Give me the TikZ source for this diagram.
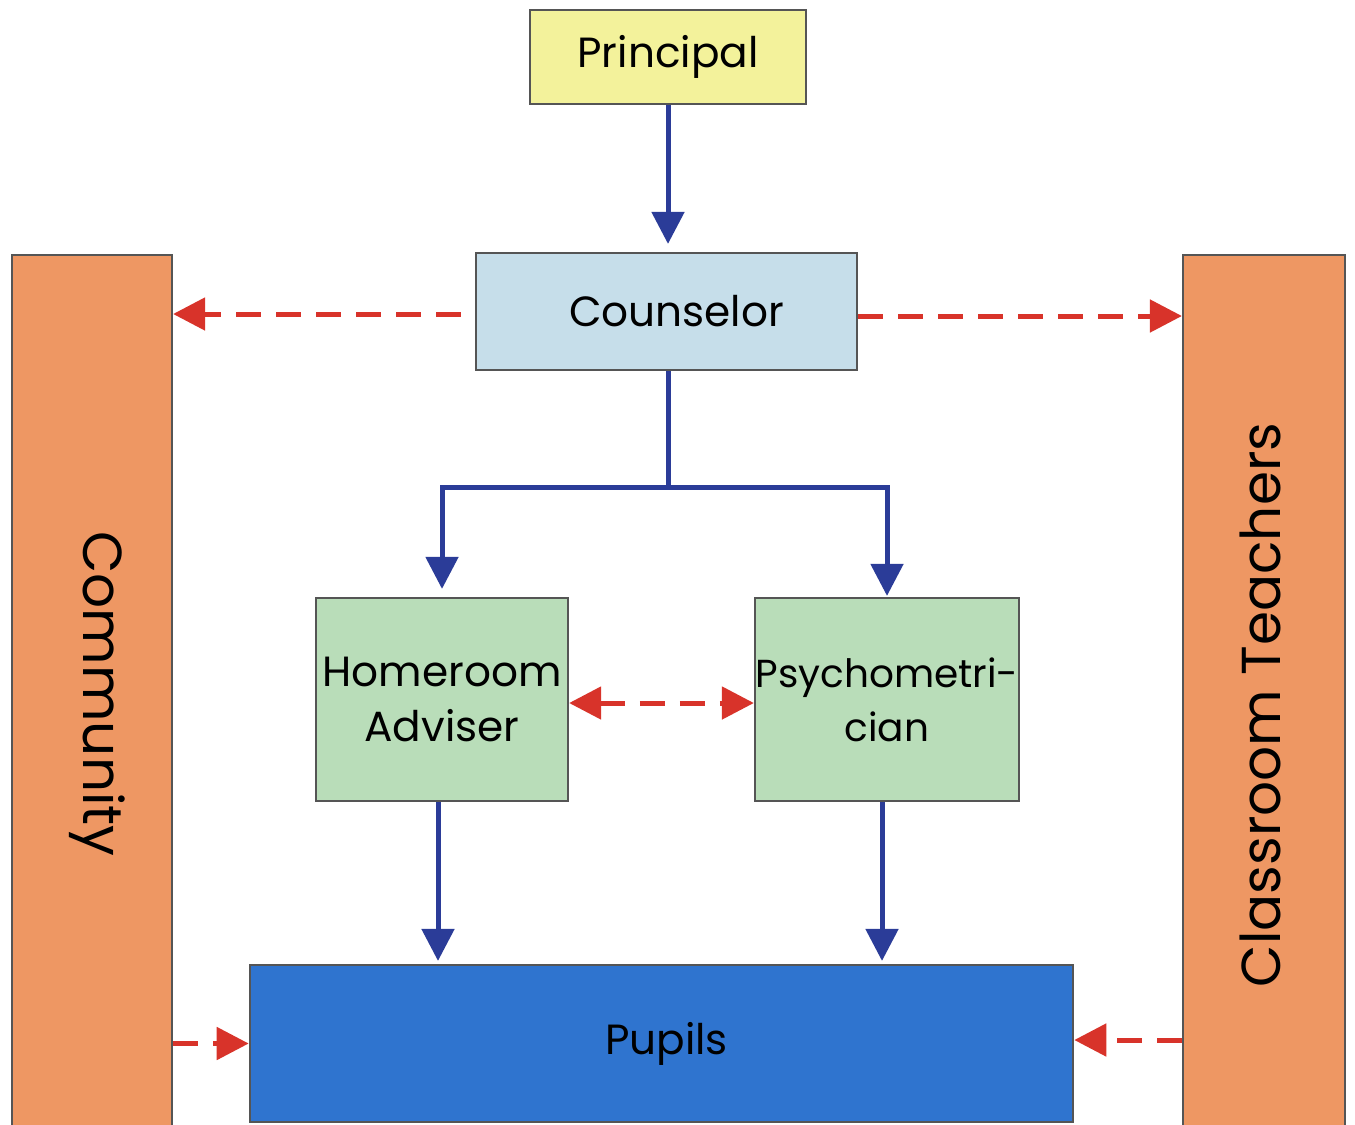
\documentclass[tikz,border=0pt]{standalone}
\usepackage{fontspec}
\setmainfont{Poppins}
\usetikzlibrary{arrows.meta}
\definecolor{cyellow}{HTML}{F3F29B}
\definecolor{clblue}{HTML}{C6DEEA}
\definecolor{cgreen}{HTML}{B9DDB9}
\definecolor{corange}{HTML}{EE9763}
\definecolor{cpupil}{HTML}{2F74CF}
\definecolor{carrow}{HTML}{2B3C98}
\definecolor{cred}{HTML}{D8332A}
\definecolor{cborder}{HTML}{555555}
\tikzset{
  box/.style={draw=cborder, line width=0.6pt, inner sep=0pt, align=center, text=black, font=\fontsize{12}{15.4}\selectfont},
  sidetext/.style={font=\fontsize{15.6}{18}\selectfont, text=black},
  bluearrow/.style={draw=carrow, line width=0.05cm, -{Triangle[length=0.32cm,width=0.32cm]}},
  bluepath/.style={draw=carrow, line width=0.05cm},
  reddash/.style={draw=cred, line width=0.05cm, dash pattern=on 0.25cm off 0.15cm},
  redtip/.style={-{Triangle[length=0.32cm,width=0.32cm]}},
  redtips/.style={{Triangle[length=0.32cm,width=0.32cm]}-{Triangle[length=0.32cm,width=0.32cm]}}
}
\begin{document}
\begin{tikzpicture}[x=0.01cm, y=-0.01cm]
\useasboundingbox[fill=white] (0,0) rectangle (1355,1124);
\node[box, fill=cyellow, minimum width=2.76cm, minimum height=0.94cm] (principal) at (668,57) {Principal};
\node[box, fill=clblue, minimum width=3.81cm, minimum height=1.17cm] (counselor) at (666.5,311.5) {\hspace*{0.2cm}Counselor};
\node[box, fill=corange, minimum width=1.60cm, minimum height=8.85cm] (community) at (92,697.5) {};
\node[sidetext, rotate=-90] (communitytext) at (97,694) {Community};
\node[box, fill=corange, minimum width=1.62cm, minimum height=8.85cm] (teachers) at (1264,697.5) {};
\node[sidetext, rotate=90] (teacherstext) at (1260,705) {Classroom Teachers};
\node[box, fill=cgreen, minimum width=2.52cm, minimum height=2.03cm] (homeroom) at (442,699.5) {Homeroom\\Adviser};
\node[box, fill=cgreen, minimum width=2.64cm, minimum height=2.03cm, font=\fontsize{11.1}{15.4}\selectfont] (psycho) at (887,699.5) {Psychometri-\\cian};
\node[box, fill=cpupil, minimum width=8.23cm, minimum height=1.57cm] (pupils) at (661.5,1043.5) {\hspace*{0.1cm}Pupils};
% blue connectors
\draw[bluearrow, shorten >=0.08cm] (principal.south) -- (principal.south |- counselor.north);
\coordinate (junction) at (principal.south |- 0,487);
\draw[bluepath] (principal.south |- counselor.south) -- (junction);
\draw[bluearrow, shorten >=0.08cm] (junction) -| (homeroom.north);
\draw[bluearrow, shorten >=0.01cm] (junction) -| (psycho.north);
\draw[bluearrow, shorten >=0.03cm] ([xshift=-0.04cm]homeroom.south) -- ([xshift=-0.04cm]homeroom.south |- pupils.north);
\draw[bluearrow, shorten >=0.03cm] ([xshift=-0.05cm]psycho.south) -- ([xshift=-0.05cm]psycho.south |- pupils.north);
% red dashed connectors
\draw[reddash, redtip] ([xshift=-0.14cm, yshift=-0.025cm]counselor.west) -- ([yshift=-0.025cm]community.east |- counselor.west);
\draw[reddash, redtip] ([yshift=-0.045cm]counselor.east) -- ([yshift=-0.045cm]teachers.west |- counselor.east);
\draw[reddash, redtips] ([yshift=-0.035cm]homeroom.east) -- ([yshift=-0.035cm]psycho.west);
\draw[reddash, redtip] (community.east |- pupils.west) -- (pupils.west);
\draw[reddash, redtip] ([yshift=0.035cm]teachers.west |- pupils.east) -- ([yshift=0.035cm]pupils.east);
\end{tikzpicture}
\end{document}
